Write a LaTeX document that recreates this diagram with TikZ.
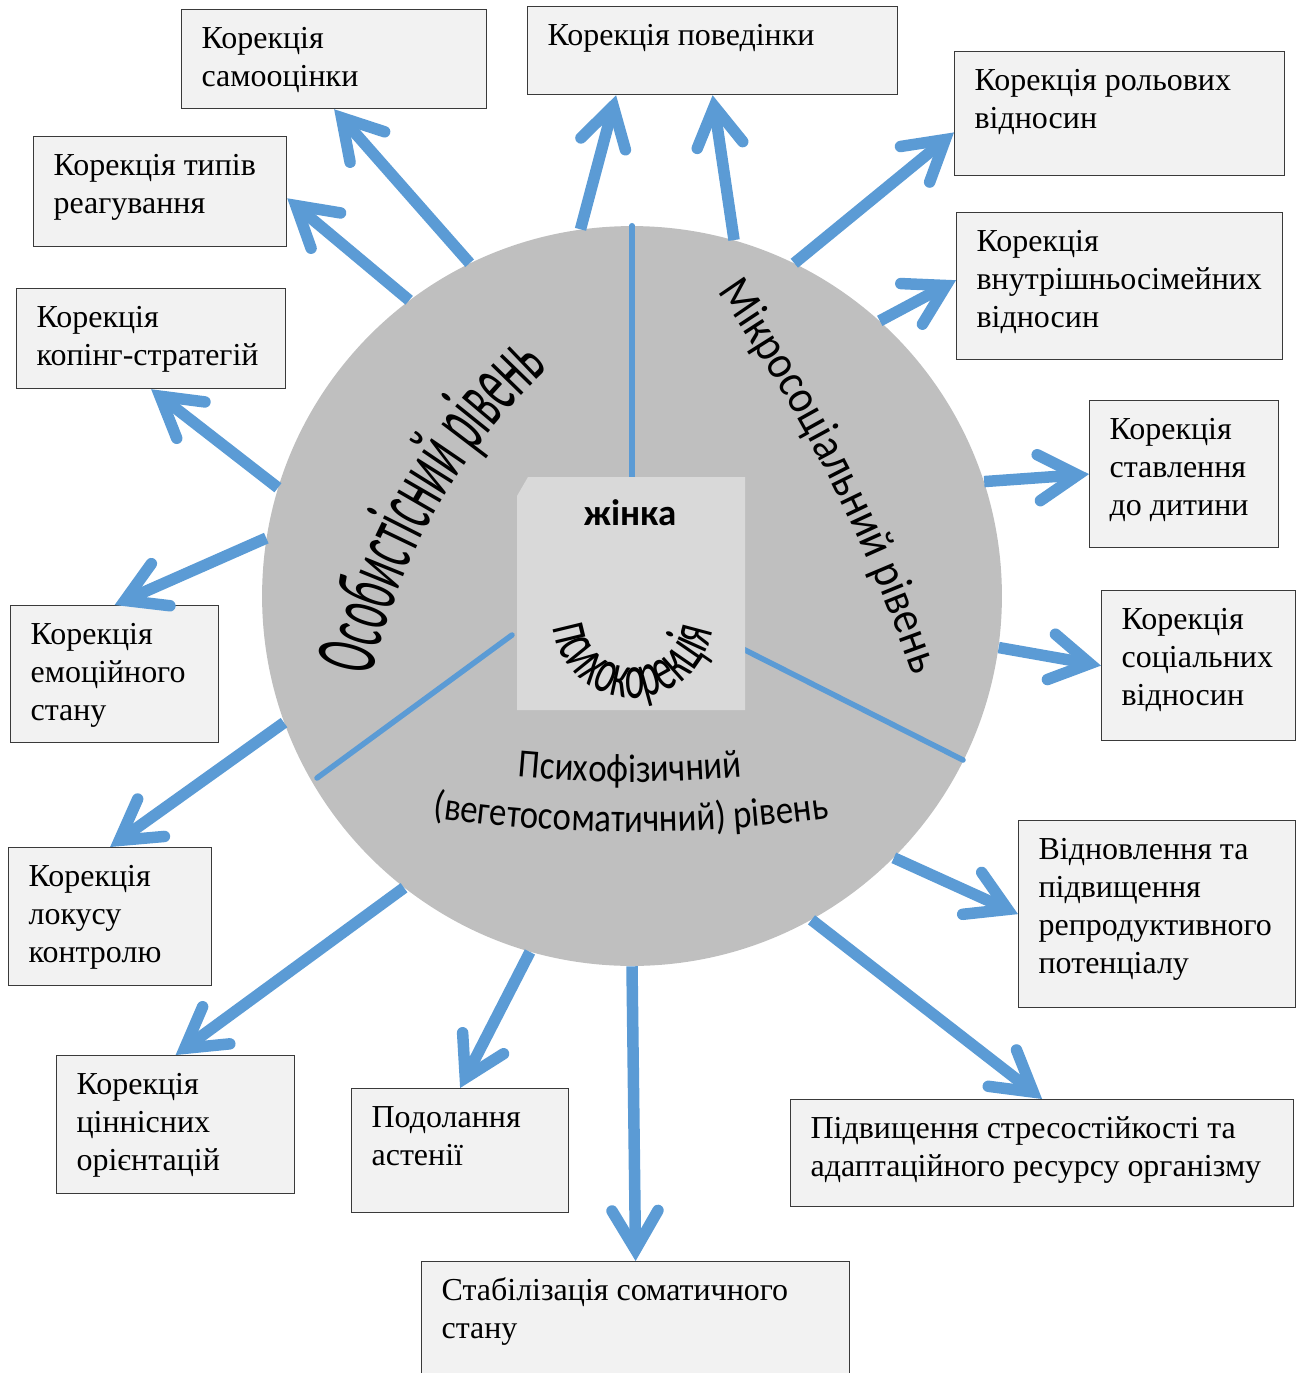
\documentclass[tikz,border=0pt]{standalone}
\usepackage{fontspec}
\setmainfont{Liberation Serif}
\newfontfamily\calface{Carlito}
\newfontfamily\persface[FakeStretch=0.47]{Carlito}
\newfontfamily\microface[FakeStretch=0.88]{Carlito}
\newfontfamily\somaface[FakeStretch=0.87]{Carlito}
\newfontfamily\pskface[FakeStretch=0.59]{Carlito}
\usetikzlibrary{arrows.meta,calc,decorations.text}
\definecolor{psyBlue}{HTML}{5B9BD5}
\definecolor{psyDisk}{HTML}{BFBFBF}
\definecolor{psyCore}{HTML}{D9D9D9}
\definecolor{psyCard}{HTML}{F2F2F2}
\definecolor{psyLine}{HTML}{3A3A3A}
\newlength\pxu \setlength\pxu{0.02cm}
\newcommand{\cardtxt}[3]{\parbox[t][\dimexpr#2\pxu-24\pxu\relax][t]{#1\pxu}{\raggedright\leftskip=20\pxu\strut#3}}
\newcommand{\persfont}{\persface\fontsize{50pt}{60pt}\selectfont}
\newcommand{\microfont}{\microface\fontsize{27pt}{32pt}\selectfont}
\newcommand{\somafont}{\somaface\fontsize{22.8pt}{27pt}\selectfont}
\newcommand{\pskfont}{\pskface\fontsize{36pt}{43pt}\selectfont}

\begin{document}
\begin{tikzpicture}[x=0.02cm,y=-0.02cm,
  card/.style={draw=psyLine,line width=0.7pt,fill=psyCard,anchor=north west,
               inner xsep=0pt,inner ysep=0.24cm,font=\fontsize{18.2pt}{21.6pt}\selectfont},
  ray/.style={draw=psyBlue,line width=0.23cm,
              -{Straight Barb[length=0.78cm,width=0.92cm,line cap=round,line join=miter]}},
  divider/.style={draw=psyBlue,line width=0.11cm,line cap=round},
  arctext/.style={decorate,decoration={text along path,text align=center,text={#1}}}]
  \useasboundingbox (0,0) rectangle (1296,1373);

  \node[circle,fill=psyDisk,minimum size=14.8cm,inner sep=0pt] (disk) at (632,596) {};

  \coordinate (coreTop) at (632,477);
  \coordinate (coreLeft) at (512,635);
  \coordinate (coreRight) at (743,649);
  \coordinate (divLeft) at (317,778);
  \coordinate (divRight) at (963,760);
  \draw[divider] (disk.90) -- (coreTop);
  \draw[divider] (coreLeft) -- (divLeft);
  \draw[divider] (coreRight) -- (divRight);

  \fill[psyCore] (517,496) -- (528,477) -- (745,477) -- (745,710) -- (517,710) -- cycle;
  \node[font=\calface\fontsize{21pt}{25pt}\selectfont\bfseries] (woman) at (630,513) {жінка};
  \path[arctext={|\pskfont|психокорекція}] (633,618) ++(200:80) arc[start angle=200,end angle=-18,radius=80];

  \path[arctext={|\persfont|Особистісний рівень}] (954,805) ++(189.8:596) arc[start angle=189.8,end angle=229.8,radius=596];
  \path[arctext={|\microfont|Мікросоціальний рівень}] (-547.5,1177.7) ++(-39:1544) arc[start angle=-39,end angle=-15,radius=1544];
  \path[arctext={|\somafont|Психофізичний}] (630,-450) ++(100:1232) arc[start angle=100,end angle=80,radius=1232];
  \path[arctext={|\somafont|(вегетосоматичний) рівень}] (631,-554) ++(100:1386) arc[start angle=100,end angle=80,radius=1386];

  \node[card] (selfEst) at (181,9) {\cardtxt{305}{99}{Корекція\\самооцінки}};
  \node[card] (behav) at (527,6) {\cardtxt{370}{88}{Корекція поведінки}};
  \node[card] (roles) at (954,51) {\cardtxt{330}{124}{Корекція рольових\\відносин}};
  \node[card] (react) at (33,136) {\cardtxt{253}{110}{Корекція типів\\реагування}};
  \node[card] (family) at (956,212) {\cardtxt{326}{147}{Корекція\\внутрішньосімейних\\відносин}};
  \node[card] (coping) at (16,288) {\cardtxt{269}{100}{Корекція\\копінг-стратегій}};
  \node[card] (child) at (1089,400) {\cardtxt{189}{147}{Корекція\\ставлення\\до дитини}};
  \node[card] (emot) at (10,605) {\cardtxt{208}{137}{Корекція\\емоційного\\стану}};
  \node[card] (social) at (1101,590) {\cardtxt{194}{150}{Корекція\\соціальних\\відносин}};
  \node[card] (locus) at (8,847) {\cardtxt{203}{138}{Корекція\\локусу\\контролю}};
  \node[card] (repro) at (1018,820) {\cardtxt{277}{187}{Відновлення та\\підвищення\\репродуктивного\\потенціалу}};
  \node[card] (values) at (56,1055) {\cardtxt{238}{138}{Корекція\\ціннісних\\орієнтацій}};
  \node[card] (asth) at (351,1088) {\cardtxt{217}{124}{Подолання\\астенії}};
  \node[card] (stress) at (790,1099) {\cardtxt{503}{107}{Підвищення стресостійкості та\\адаптаційного ресурсу організму}};
  \node[card] (soma) at (421,1261) {\cardtxt{428}{124}{Стабілізація соматичного\\стану}};

  \draw[ray] (disk.116) -- (selfEst.south);
  \draw[ray] (disk.98) -- ($(behav.south west)!0.24!(behav.south east)$);
  \draw[ray] (disk.74) -- (behav.south);
  \draw[ray] (disk.64) -- ($(roles.north west)!0.65!(roles.south west)$);
  \draw[ray] (disk.48) -- ($(family.north west)!0.46!(family.south west)$);
  \draw[ray] (disk.18) -- (child.west);
  \draw[ray] (disk.-8) -- (social.west);
  \draw[ray] (disk.-45) -- (repro.west);
  \draw[ray] (disk.-61) -- (stress.north);
  \draw[ray] (disk.-90) -- (soma.north);
  \draw[ray] (disk.254) -- (asth.north);
  \draw[ray] (disk.232) -- (values.north);
  \draw[ray] (disk.200) -- (locus.north);
  \draw[ray] (disk.171) -- (emot.north);
  \draw[ray] (disk.163) -- (coping.south);
  \draw[ray] (disk.127) -- ($(react.north east)!0.56!(react.south east)$);
\end{tikzpicture}
\end{document}
